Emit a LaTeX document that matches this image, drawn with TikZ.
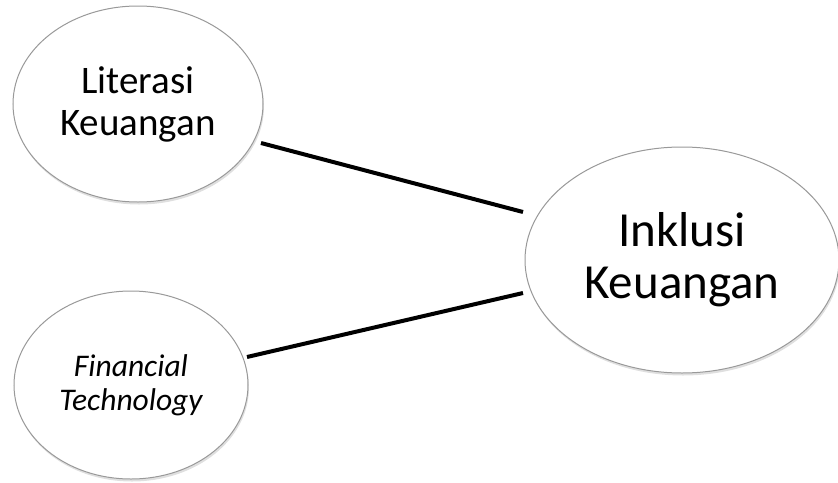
\documentclass[tikz,border=0pt]{standalone}
\usepackage{fontspec}
\setmainfont{Carlito}
\usetikzlibrary{shapes.geometric,shadows}
\begin{document}
\begin{tikzpicture}[x=1pt,y=-1pt,
  bubble/.style={ellipse, draw=gray!80, line width=1pt, fill=white,
    inner sep=0pt, align=center, text=black,
    drop shadow={opacity=0.25, shadow xshift=1pt, shadow yshift=-2.5pt}},
  link/.style={line width=4pt, black}]
\useasboundingbox (0,0) rectangle (838,482);
\node[bubble, minimum width=250pt, minimum height=196pt,
  font=\fontsize{39}{42}\selectfont] (lit) at (138,104) {Literasi\\Keuangan};
\node[bubble, minimum width=234pt, minimum height=188pt,
  font=\fontsize{31.5}{34}\selectfont\itshape] (fin) at (131,385) {Financial\\Technology};
\node[bubble, minimum width=314pt, minimum height=226pt,
  font=\fontsize{49}{52}\selectfont] (ink) at (682,260) {Inklusi\\Keuangan};
\coordinate (l1s) at (261,143);
\coordinate (l1e) at (523,212);
\coordinate (l2s) at (247,357);
\coordinate (l2e) at (523,293);
\draw[link] (l1s) -- (l1e);
\draw[link] (l2s) -- (l2e);
\end{tikzpicture}
\end{document}
